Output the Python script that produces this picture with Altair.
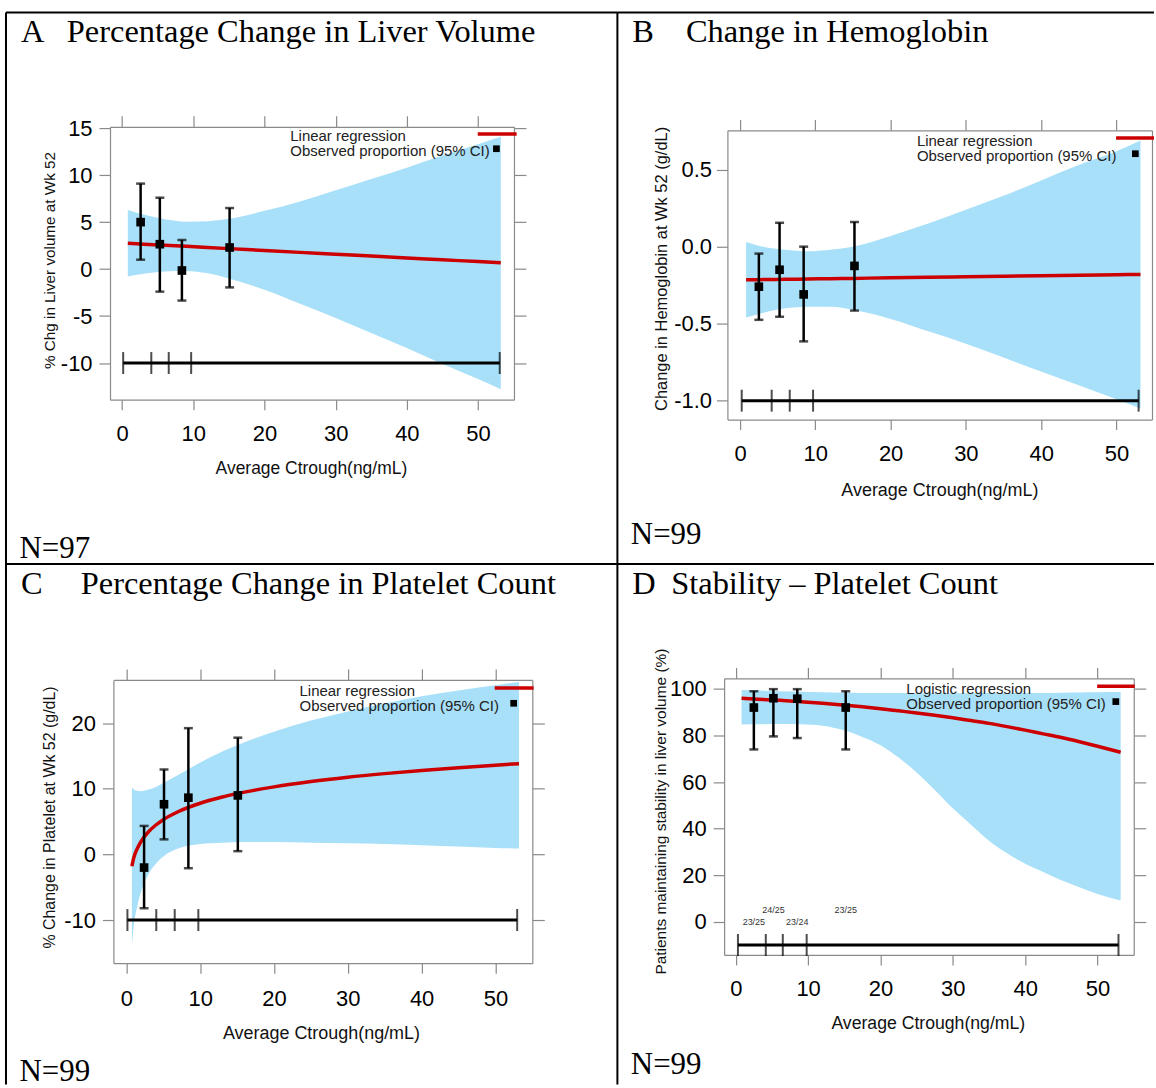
import altair as alt
import pandas as pd

# ---------------------------------------------------------------------------
# Exposure-response data (average Ctrough, ng/mL)
# ---------------------------------------------------------------------------
ctrough_ticks = [0, 10, 20, 30, 40, 50]

# A: percentage change in liver volume at week 52
liver_grid = [0.8, 3, 6, 9, 12, 15, 20, 25, 30, 35, 40, 45, 50, 53.2]
liver_fit = [2.74, 2.65, 2.53, 2.42, 2.30, 2.18, 1.98, 1.78, 1.59, 1.39, 1.19, 0.99, 0.80, 0.67]
liver_upper = [6.3, 5.8, 5.3, 5.05, 5.1, 5.35, 6.2, 7.2, 8.4, 9.6, 10.8, 12.1, 13.3, 14.1]
liver_lower = [-0.8, -0.5, -0.25, -0.2, -0.45, -1.0, -2.2, -3.7, -5.2, -6.8, -8.4, -10.1, -11.7, -12.8]
liver_obs_x = [2.6, 5.3, 8.4, 15.1]
liver_obs = [5.0, 2.65, -0.15, 2.3]
liver_obs_lo = [1.0, -2.4, -3.35, -1.95]
liver_obs_hi = [9.1, 7.6, 3.1, 6.5]
liver_quartiles = [0.15, 4.1, 6.55, 9.7, 53.05]

# B: change in hemoglobin at week 52 (g/dL)
hgb_grid = [0.8, 3, 6, 9, 12, 15, 20, 25, 30, 35, 40, 45, 50, 53.2]
hgb_fit = [-0.215, -0.214, -0.212, -0.21, -0.208, -0.206, -0.202, -0.199, -0.196, -0.192,
           -0.189, -0.185, -0.182, -0.18]
hgb_upper = [0.03, 0.0, -0.02, -0.03, -0.02, 0.0, 0.07, 0.15, 0.24, 0.33, 0.43, 0.53, 0.62, 0.69]
hgb_lower = [-0.46, -0.43, -0.40, -0.39, -0.39, -0.41, -0.47, -0.55, -0.63, -0.72, -0.81, -0.90,
             -0.99, -1.05]
hgb_obs_x = [2.5, 5.25, 8.45, 15.2]
hgb_obs = [-0.26, -0.15, -0.31, -0.125]
hgb_obs_lo = [-0.475, -0.455, -0.615, -0.415]
hgb_obs_hi = [-0.045, 0.155, 0.0, 0.16]
hgb_quartiles = [0.22, 4.2, 6.6, 9.7, 52.95]

# C: percentage change in platelet count at week 52
plt_grid = [0.75, 1, 1.5, 2, 3, 4, 5, 7, 10, 13, 16, 20, 25, 30, 35, 40, 45, 50, 53.2]
plt_fit = [-1.8, -0.51, 0.95, 1.99, 3.46, 4.49, 5.30, 6.51, 7.80, 8.75, 9.50, 10.30, 11.11,
           11.77, 12.32, 12.81, 13.23, 13.61, 13.84]
plt_upper = [10.2, 9.9, 9.7, 9.65, 9.9, 10.3, 10.9, 12.1, 14.0, 15.7, 17.1, 18.7, 20.4, 21.8,
             23.0, 24.1, 25.0, 25.8, 26.3]
plt_lower = [-13.8, -10.9, -7.8, -5.7, -3.0, -1.4, -0.3, 0.9, 1.6, 1.8, 1.9, 1.9, 1.8, 1.7, 1.6,
             1.4, 1.2, 1.0, 0.9]
plt_obs_x = [2.4, 5.1, 8.4, 15.1]
plt_obs = [-2.0, 7.65, 8.65, 9.0]
plt_obs_lo = [-8.2, 2.3, -2.1, 0.5]
plt_obs_hi = [4.35, 12.95, 19.25, 17.8]
plt_quartiles = [0.14, 4.05, 6.55, 9.75, 52.95]

# D: patients maintaining stability (%), logistic fit
stab_grid = [0.8, 3, 6, 9, 12, 15, 17.5, 20, 22.5, 25, 27.5, 30, 32.5, 35, 37.5, 40, 42.5, 45,
             47.5, 50, 53.2]
stab_fit = [96.0, 95.6, 95.1, 94.5, 93.8, 93.0, 92.3, 91.5, 90.6, 89.7, 88.7, 87.6, 86.4, 85.2,
            83.8, 82.3, 80.7, 79.1, 77.3, 75.4, 72.8]
stab_upper = [99.5, 99.3, 99.0, 98.8, 98.6, 98.4, 98.3, 98.2, 98.2, 98.1, 98.1, 98.1, 98.1, 98.2,
              98.2, 98.3, 98.3, 98.4, 98.5, 98.6, 98.7]
stab_lower = [84.7, 84.8, 84.9, 84.8, 84.2, 82.2, 79.4, 75.8, 70.5, 64.1, 56.6, 48.7, 41.7, 34.8,
              29.4, 24.9, 21.4, 17.8, 14.8, 11.9, 9.1]
stab_obs_x = [2.5, 5.2, 8.5, 15.2]
stab_obs = [92.0, 96.0, 95.8, 92.0]
stab_obs_lo = [74.0, 79.6, 78.9, 74.0]
stab_obs_hi = [99.0, 99.9, 99.9, 99.0]
stab_counts = ["23/25", "24/25", "23/24", "23/25"]
stab_count_y = [0, 5, 0, 5]
stab_quartiles = [0.3, 4.15, 6.5, 9.8, 52.9]

RED = "#cc0000"
BAND = "#a8e0f9"
FRAME = "#8a8a8a"
SANS = "Liberation Sans"
SERIF = "Liberation Serif"
ONE = pd.DataFrame({"k": [0]})


def text_at(text, x, y, size, font=SANS, baseline="alphabetic", color="black"):
    return alt.Chart(ONE).mark_text(
        text=text, align="left", baseline=baseline, fontSize=size, font=font, color=color
    ).encode(x=alt.value(x), y=alt.value(y))


def build_panel(p):
    W, H = p["size"]
    left, right = p["xrng"]
    bottom, top = p["yrng"]
    xs = alt.Scale(domain=p["xdom"], range=p["xrng"], nice=False, zero=False)
    ys = alt.Scale(domain=p["ydom"], range=p["yrng"], nice=False, zero=False)

    fit_df = pd.DataFrame({"x": p["grid"], "fit": p["fit"], "hi": p["upper"], "lo": p["lower"]})
    obs_df = pd.DataFrame({"x": p["obs_x"], "y": p["obs"], "lo": p["obs_lo"], "hi": p["obs_hi"]})
    q_df = pd.DataFrame({"x": p["quart"], "level": [p["level"]] * len(p["quart"])})
    span_df = pd.DataFrame({"x0": [p["quart"][0]], "x1": [p["quart"][-1]], "level": [p["level"]]})

    x_bottom = alt.Axis(
        orient="bottom", values=ctrough_ticks, format="d", offset=-(H - bottom),
        tickSize=10, labelPadding=p["xpad"], labelBaseline="middle", labelFontSize=22,
        labelFlush=False, labelOverlap=False,
        title="Average Ctrough(ng/mL)", titleFontSize=p["xt_size"], titleX=p["xt_x"],
        titleY=p["xt_y"], titleBaseline="middle", titleAlign="center",
    )
    y_left = alt.Axis(
        orient="left", values=p["yvals"], format=p["yfmt"],
        labelExpr="replace(datum.label, '\u2212', '-')", offset=-left, tickSize=11,
        labelPadding=p["ypad"], labelFontSize=22, labelFlush=False, labelOverlap=False,
        title=p["ytitle"], titleFontSize=p["yt_size"], titleX=p["yt_x"], titleY=p["yt_y"],
        titleBaseline="middle", titleAlign="center",
    )
    x_top = alt.Axis(orient="top", values=ctrough_ticks, labels=False, offset=-top,
                     tickSize=11, title=None)
    y_right = alt.Axis(orient="right", values=p["yvals"], labels=False, offset=-(W - right),
                       tickSize=max(p["rtick"], 0.1), ticks=p["rtick"] > 0, title=None)

    band = alt.Chart(fit_df).mark_area(color=BAND, opacity=1, interpolate="monotone").encode(
        x=alt.X("x:Q", scale=xs, axis=x_bottom),
        y=alt.Y("hi:Q", scale=ys, axis=y_left),
        y2="lo:Q",
    )
    frame = alt.Chart(fit_df).mark_point(opacity=0).encode(
        x=alt.X("x:Q", scale=xs, axis=x_top),
        y=alt.Y("fit:Q", scale=ys, axis=y_right),
    )
    fit_line = alt.Chart(fit_df).mark_line(color=RED, strokeWidth=3.5, interpolate="monotone").encode(
        x=alt.X("x:Q", scale=xs, axis=None),
        y=alt.Y("fit:Q", scale=ys, axis=None),
    )
    whisker = alt.Chart(obs_df).mark_rule(color="black", strokeWidth=2.5).encode(
        x=alt.X("x:Q", scale=xs, axis=None),
        y=alt.Y("lo:Q", scale=ys, axis=None),
        y2="hi:Q",
    )
    cap_hi = alt.Chart(obs_df).mark_tick(orient="horizontal", size=9, thickness=2.5, color="black").encode(
        x=alt.X("x:Q", scale=xs, axis=None),
        y=alt.Y("hi:Q", scale=ys, axis=None),
    )
    cap_lo = alt.Chart(obs_df).mark_tick(orient="horizontal", size=9, thickness=2.5, color="black").encode(
        x=alt.X("x:Q", scale=xs, axis=None),
        y=alt.Y("lo:Q", scale=ys, axis=None),
    )
    squares = alt.Chart(obs_df).mark_square(size=75, color="black", opacity=1).encode(
        x=alt.X("x:Q", scale=xs, axis=None),
        y=alt.Y("y:Q", scale=ys, axis=None),
    )
    span = alt.Chart(span_df).mark_rule(color="black", strokeWidth=3).encode(
        x=alt.X("x0:Q", scale=xs, axis=None),
        x2="x1:Q",
        y=alt.Y("level:Q", scale=ys, axis=None),
    )
    q_ticks = alt.Chart(q_df).mark_tick(orient="vertical", size=22, thickness=2, color="black").encode(
        x=alt.X("x:Q", scale=xs, axis=None),
        y=alt.Y("level:Q", scale=ys, axis=None),
    )

    lx, ly1, ly2 = p["leg_text"]
    sx0, sx1, sy = p["leg_seg"]
    qx, qy = p["leg_sq"]
    legend = [
        text_at(p["fit_name"], lx, ly1, 15, baseline="middle", color="#222222"),
        text_at("Observed proportion (95% CI)", lx, ly2, 15, baseline="middle", color="#222222"),
        alt.Chart(ONE).mark_rule(color=RED, strokeWidth=3.5).encode(
            x=alt.value(sx0), x2=alt.value(sx1), y=alt.value(sy)),
        alt.Chart(ONE).mark_square(size=45, color="black", opacity=1).encode(
            x=alt.value(qx), y=alt.value(qy)),
    ]

    borders = [
        alt.Chart(ONE).mark_rule(color="black", strokeWidth=2).encode(
            x=alt.value(0), y=alt.value(0), y2=alt.value(p["border_h"])),
        alt.Chart(ONE).mark_rule(color="black", strokeWidth=2).encode(
            x=alt.value(0), x2=alt.value(W), y=alt.value(0)),
    ]
    heading = [
        text_at(p["letter"], 15, 30, 32.5, font=SERIF),
        text_at(p["heading"], p["heading_x"], 30, 32.5, font=SERIF),
        text_at(p["n_text"], 13.5, p["n_y"], 31, font=SERIF),
    ]

    layers = [band, frame, fit_line, whisker, cap_hi, cap_lo, squares, span, q_ticks]
    if p.get("counts"):
        count_df = pd.DataFrame({"x": p["obs_x"], "ly": p["count_y"], "lab": p["counts"]})
        layers.append(
            alt.Chart(count_df).mark_text(fontSize=9, color="#333333", font=SANS).encode(
                x=alt.X("x:Q", scale=xs, axis=None),
                y=alt.Y("ly:Q", scale=ys, axis=None),
                text="lab:N",
            )
        )
    layers += legend + borders + heading
    return alt.layer(*layers).resolve_axis(x="independent", y="independent").properties(
        width=W, height=H
    )


panel_a = build_panel(dict(
    size=(613, 553), xrng=[104.3, 509.3], xdom=[-1.7, 55.05], yrng=[388.3, 114.7],
    ydom=[-13.9, 15.15], yvals=[-10, -5, 0, 5, 10, 15], yfmt="d",
    grid=liver_grid, fit=liver_fit, upper=liver_upper, lower=liver_lower,
    obs_x=liver_obs_x, obs=liver_obs, obs_lo=liver_obs_lo, obs_hi=liver_obs_hi,
    quart=liver_quartiles, level=-10,
    xpad=24, ypad=7, rtick=12,
    xt_size=17.5, xt_x=305.7, xt_y=69,
    ytitle="% Chg in Liver volume at Wk 52", yt_size=15.3, yt_x=-61, yt_y=248.3,
    fit_name="Linear regression", leg_text=(285, 124, 139.3), leg_seg=(473, 512, 122),
    leg_sq=(491.7, 136.7),
    letter="A", heading="Percentage Change in Liver Volume", heading_x=61,
    n_text="N=97", n_y=547, border_h=553,
))

panel_b = build_panel(dict(
    size=(538, 553), xrng=[110.3, 536], xdom=[-1.68, 54.73], yrng=[408.3, 118.3],
    ydom=[-1.123, 0.755], yvals=[-1.0, -0.5, 0.0, 0.5], yfmt=".1f",
    grid=hgb_grid, fit=hgb_fit, upper=hgb_upper, lower=hgb_lower,
    obs_x=hgb_obs_x, obs=hgb_obs, obs_lo=hgb_obs_lo, obs_hi=hgb_obs_hi,
    quart=hgb_quartiles, level=-1.0,
    xpad=24, ypad=5, rtick=0,
    xt_size=18, xt_x=322.8, xt_y=71,
    ytitle="Change in Hemoglobin at Wk 52 (g/dL)", yt_size=16.5, yt_x=-65.6, yt_y=256.7,
    fit_name="Linear regression", leg_text=(300.3, 129.3, 144.3), leg_seg=(500, 538, 126),
    leg_sq=(519.3, 141.7),
    letter="B", heading="Change in Hemoglobin", heading_x=68.7,
    n_text="N=99", n_y=533, border_h=553,
))

panel_c = build_panel(dict(
    size=(613, 515), xrng=[107.7, 527.7], xdom=[-1.757, 55.0], yrng=[400.3, 116.3],
    ydom=[-16.58, 26.6], yvals=[-10, 0, 10, 20], yfmt="d",
    grid=plt_grid, fit=plt_fit, upper=plt_upper, lower=plt_lower,
    obs_x=plt_obs_x, obs=plt_obs, obs_lo=plt_obs_lo, obs_hi=plt_obs_hi,
    quart=plt_quartiles, level=-10,
    xpad=25, ypad=7, rtick=12,
    xt_size=18, xt_x=315.8, xt_y=70,
    ytitle="% Change in Platelet at Wk 52 (g/dL)", yt_size=16, yt_x=-64.4, yt_y=253.7,
    fit_name="Linear regression", leg_text=(294.3, 127, 142), leg_seg=(490, 529, 124.3),
    leg_sq=(509, 139.7),
    letter="C", heading="Percentage Change in Platelet Count", heading_x=75,
    n_text="N=99", n_y=518, border_h=522,
))

panel_d = build_panel(dict(
    size=(538, 515), xrng=[107, 517.7], xdom=[-1.61, 55.01], yrng=[392, 114.7],
    ydom=[-14.27, 104.54], yvals=[0, 20, 40, 60, 80, 100], yfmt="d",
    grid=stab_grid, fit=stab_fit, upper=stab_upper, lower=stab_lower,
    obs_x=stab_obs_x, obs=stab_obs, obs_lo=stab_obs_lo, obs_hi=stab_obs_hi,
    quart=stab_quartiles, level=-10,
    xpad=24, ypad=7, rtick=12,
    xt_size=17.7, xt_x=311.2, xt_y=69,
    ytitle="Patients maintaining stability in liver volume (%)", yt_size=15.5, yt_x=-63.3,
    yt_y=247.8,
    fit_name="Logistic regression", leg_text=(289.7, 125.3, 140.3), leg_seg=(481, 518.7, 122.7),
    leg_sq=(499.7, 138),
    letter="D", heading="Stability \u2013 Platelet Count", heading_x=54,
    n_text="N=99", n_y=511, border_h=522,
    counts=stab_counts, count_y=stab_count_y,
))

# 2x2 grid of cells; each cell's size is its own width/height
chart = (
    alt.concat(panel_a, panel_b, panel_c, panel_d, columns=2, spacing=0, bounds="flush")
    .properties(padding={"left": 5, "top": 10, "right": 0, "bottom": 0}, background="white")
    .configure_view(strokeWidth=0)
    .configure_axis(
        grid=False, domainColor=FRAME, tickColor=FRAME, domainWidth=1.2, tickWidth=1.2,
        labelFont=SANS, titleFont=SANS, labelColor="black", titleColor="#111111",
        titleFontWeight="normal",
    )
)

chart.save("out.html", embed_options={"renderer": "svg", "actions": False})
